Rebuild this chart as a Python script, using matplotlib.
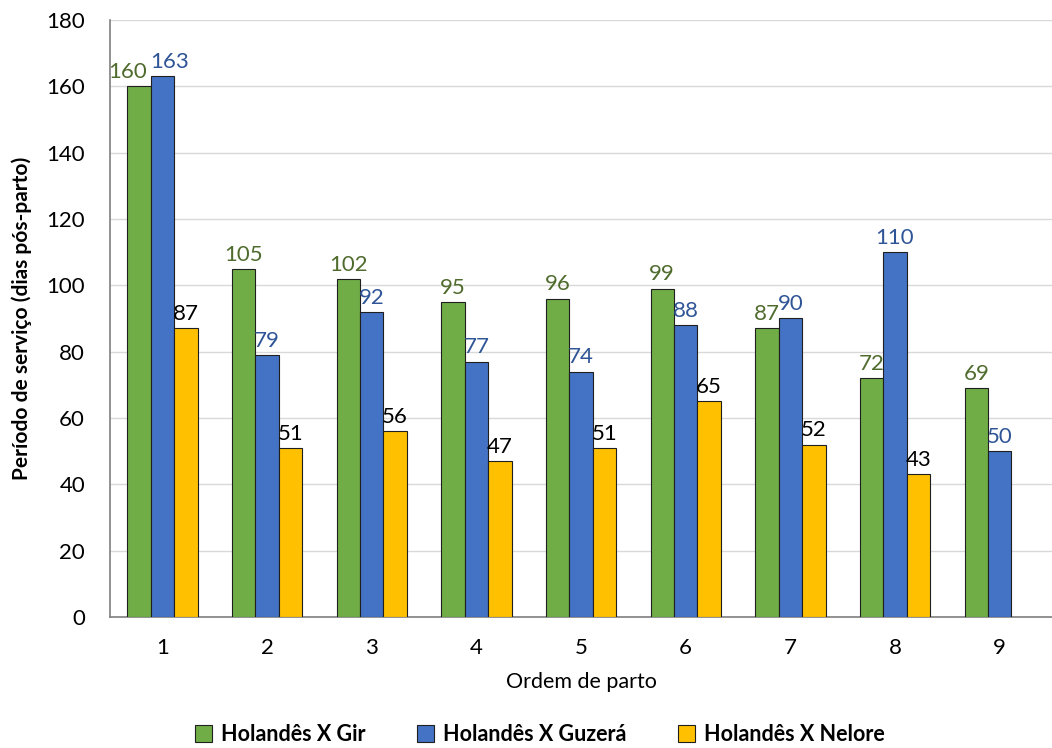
import matplotlib.pyplot as plt
import numpy as np

plt.rcParams['font.family'] = ['Lato', 'DejaVu Sans']

ordem = [1, 2, 3, 4, 5, 6, 7, 8, 9]
gir = [160, 105, 102, 95, 96, 99, 87, 72, 69]
guzera = [163, 79, 92, 77, 74, 88, 90, 110, 50]
nelore = [87, 51, 56, 47, 51, 65, 52, 43, np.nan]

series = [
    ('Holandês X Gir', gir, '#70AD47', '#4F6B2D'),
    ('Holandês X Guzerá', guzera, '#4472C4', '#2F5597'),
    ('Holandês X Nelore', nelore, '#FFC000', '#000000'),
]

# nudge the two tall labels of the first group apart so they don't collide
nudge = {(0, 0): -8.0, (1, 0): 5.5}

fig = plt.figure(figsize=(10.52, 7.48), dpi=100)
ax = fig.add_axes([0.1046, 0.1751, 0.8954, 0.7982])

x = np.array(ordem, dtype=float)
width = 0.224
for i, (nome, vals, cor, cor_txt) in enumerate(series):
    pos = x + (i - 1) * width
    bars = ax.bar(pos, vals, width, color=cor, edgecolor='#1F1F1F',
                  linewidth=0.8, label=nome, zorder=3)
    for j, (b, v) in enumerate(zip(bars, vals)):
        if np.isnan(v):
            continue
        ax.annotate(f'{v:.0f}', (b.get_x() + b.get_width() / 2, v),
                    xytext=(nudge.get((i, j), 0), 3), textcoords='offset points',
                    ha='center', va='bottom', fontsize=16, color=cor_txt)

ax.set_xlim(0.5, 9.5)
ax.set_ylim(0, 180)
ax.set_yticks(range(0, 181, 20))
ax.set_xticks(ordem)
ax.tick_params(axis='x', length=0, labelsize=16, pad=15)
ax.tick_params(axis='y', length=0, labelsize=16, pad=18)
ax.grid(axis='y', color='#D9D9D9', linewidth=1, zorder=0)
for s in ['top', 'right']:
    ax.spines[s].set_visible(False)
for s in ['left', 'bottom']:
    ax.spines[s].set_color('#7F7F7F')
    ax.spines[s].set_linewidth(1.2)

ax.set_xlabel('Ordem de parto', fontsize=15.5, labelpad=10)
ax.set_ylabel('Período de serviço (dias pós-parto)', fontsize=15,
              fontweight='bold', labelpad=10)

fig.legend(loc='lower center', bbox_to_anchor=(0.513, -0.022), ncol=3,
           frameon=False, prop={'weight': 'bold', 'size': 15.5},
           handlelength=0.8, handleheight=0.8, handletextpad=0.4,
           columnspacing=2.4)

fig.savefig('out.png', dpi=100)
